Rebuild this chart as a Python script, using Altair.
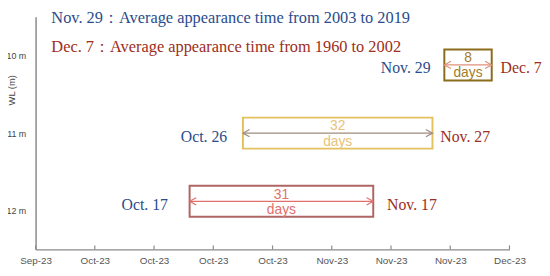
import altair as alt
import pandas as pd

# ---- data ----
levels = [12, 11, 10]                      # WL (m)
row_center = [11.88, 11.0, 10.12]          # where each box sits on the WL axis
start_dates = ["2023-10-17", "2023-10-26", "2023-11-29"]
end_dates = ["2023-11-17", "2023-11-27", "2023-12-07"]
durations = ["31", "32", "8"]
start_labels = ["Oct. 17", "Oct. 26", "Nov. 29"]
end_labels = ["Nov. 17", "Nov. 27", "Dec. 7"]
tick_dates = ["2023-09-21", "2023-10-01", "2023-10-11", "2023-10-21", "2023-10-31",
              "2023-11-10", "2023-11-20", "2023-11-30", "2023-12-10"]
y_ticks = [10, 11, 12]
notes = ["Nov. 29：Average appearance time  from 2003 to 2019",
         "Dec. 7：Average appearance time  from 1960 to 2002"]

# ---- styles ----
BLUE = "#2b4c8c"
RED = "#9c2e22"
box_stroke = ["#b06464", "#e3c25e", "#8a6c1c"]
box_text = ["#e0706c", "#e9c27a", "#a47c28"]
arrow_col = ["#e0706c", "#a08c80", "#e0907c"]
left_gap = [-22, -16, -14]
right_gap = [14, 8, 9]
HALF = 0.2

W, H = 481, 236
xdom = [alt.DateTime(year=2023, month=9, date=21, utc=True),
        alt.DateTime(year=2023, month=12, date=10, utc=True)]
xscale = alt.Scale(type="utc", domain=xdom)
yscale = alt.Scale(domain=[9.5, 12.5], reverse=True)

df = pd.DataFrame({
    "level": levels, "c": row_center, "start": start_dates, "end": end_dates,
    "dur": durations, "sl": start_labels, "el": end_labels,
})
df["top"] = df["c"] - HALF
df["bot"] = df["c"] + HALF
df["num_y"] = df["c"] - 0.085
df["days_y"] = df["c"] + 0.11
df["lab_y"] = df["c"] + 0.045

xvals = [alt.DateTime(year=int(d[:4]), month=int(d[5:7]), date=int(d[8:]), utc=True) for d in tick_dates]

AXX = alt.Axis(values=xvals, labelExpr="utcFormat(datum.value, '%b-%y')", ticks=False,
               grid=False, domainColor="#8a8a8a", domainWidth=1.5,
               labelFont="Liberation Sans", labelFontSize=10, labelColor="#555555",
               labelPadding=6, title=None, labelFlush=False, labelOverlap=False)
AXY = alt.Axis(values=y_ticks, labelExpr="datum.value + ' m'", ticks=False, grid=False,
               domainColor="#8a8a8a", domainWidth=1.5, labelFont="Liberation Sans",
               labelFontSize=9, labelColor="#444444", labelPadding=10,
               title="WL (m)", titleFont="Liberation Sans", titleFontSize=9.5,
               titleFontWeight="normal", titleColor="#444444",
               titleX=-24, titleY=74, titleAngle=-90, titleAlign="center",
               titleBaseline="middle")


def X(field):
    return alt.X(field, type="temporal", scale=xscale, axis=AXX)


def Y(field):
    return alt.Y(field, type="quantitative", scale=yscale, axis=AXY)


# inward x ticks (also carries the axes)
ticks = alt.Chart(pd.DataFrame({"t": tick_dates, "v": [12.5] * len(tick_dates)})).mark_rule(
    color="#8a8a8a", strokeWidth=1.2).encode(
    x=X("t"), y=Y("v"), y2=alt.value(H - 4))

layers = [ticks]
mid_expr = "(toDate(datum.start) + toDate(datum.end)) / 2"

for i in range(3):
    row = df.iloc[[i]]
    b = alt.Chart(row)
    layers.append(b.mark_rect(fill="white", fillOpacity=0, stroke=box_stroke[i], strokeWidth=2).encode(
        x=X("start"), x2="end:T", y=Y("top"), y2="bot:Q"))
    layers.append(b.mark_rule(color=arrow_col[i], strokeWidth=1.2).encode(
        x=X("start"), x2="end:T", y=Y("c")))
    layers.append(b.mark_point(shape="M1,-0.55 L0,0 L1,0.55", size=180, filled=False,
                               color=arrow_col[i], strokeWidth=1.2, opacity=1).encode(
        x=X("start"), y=Y("c")))
    layers.append(b.mark_point(shape="M-1,-0.55 L0,0 L-1,0.55", size=180, filled=False,
                               color=arrow_col[i], strokeWidth=1.2, opacity=1).encode(
        x=X("end"), y=Y("c")))
    layers.append(b.mark_text(font="Liberation Sans", fontSize=14, color=box_text[i]).encode(
        x=X("mid"), y=Y("num_y"), text="dur:N").transform_calculate(mid=mid_expr))
    layers.append(b.mark_text(font="Liberation Sans", fontSize=14, color=box_text[i], text="days").encode(
        x=X("mid"), y=Y("days_y")).transform_calculate(mid=mid_expr))
    layers.append(b.mark_text(font="Liberation Serif", fontSize=16, color=BLUE, align="right",
                              dx=left_gap[i]).encode(
        x=X("start"), y=Y("lab_y"), text="sl:N"))
    layers.append(b.mark_text(font="Liberation Serif", fontSize=16, color=RED, align="left",
                              dx=right_gap[i]).encode(
        x=X("end"), y=Y("lab_y"), text="el:N"))

note_df = pd.DataFrame({"note": notes, "k": [0, 1]})
for k, col in enumerate([BLUE, RED]):
    layers.append(alt.Chart(note_df[note_df.k == k]).mark_text(
        font="Liberation Serif", fontSize=16.6, color=col, align="left", baseline="middle").encode(
        x=alt.value(16), y=alt.value(1 + 30 * k), text="note:N"))

chart = alt.layer(*layers).properties(
    width=W, height=H,
    background="white",
    autosize=alt.AutoSizeParams(type="none"),
    padding={"left": 28, "top": 7, "right": 33, "bottom": 25},
).configure_view(stroke=None)

chart.save("out.html", embed_options={"renderer": "svg", "actions": False})
